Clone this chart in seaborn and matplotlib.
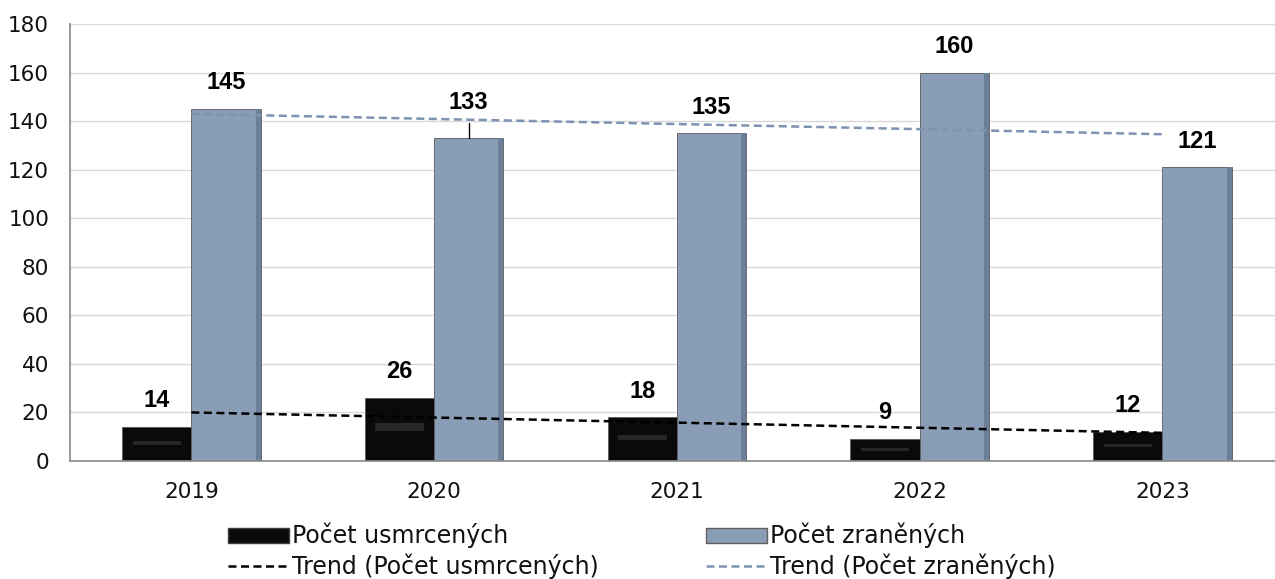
import numpy as np
import pandas as pd
import matplotlib
matplotlib.use("Agg")
import matplotlib.pyplot as plt
from matplotlib.lines import Line2D
from matplotlib.patches import Patch
import seaborn as sns

sns.set_theme(style="white")
plt.rcParams["font.family"] = ["DejaVu Sans"]
plt.rcParams["text.color"] = "#111111"
plt.rcParams["xtick.color"] = "#111111"
plt.rcParams["ytick.color"] = "#111111"

# ── Data ────────────────────────────────────────────────────────────
years = ["2019", "2020", "2021", "2022", "2023"]
killed = [14, 26, 18, 9, 12]
injured = [145, 133, 135, 160, 121]
series = ["Počet usmrcených", "Počet zraněných"]

COLORS = {"Počet usmrcených": "#0a0a0a", "Počet zraněných": "#8a9db7"}
TREND = {"Počet usmrcených": "#000000", "Počet zraněných": "#7d93b1"}
DASH = (0, (3.2, 1.8))

df = pd.DataFrame({
    "Rok": years * 2,
    "Hodnota": killed + injured,
    "Série": [series[0]] * len(years) + [series[1]] * len(years),
})

fig = plt.figure(figsize=(12.75, 5.79), dpi=100)
ax = fig.add_axes([0.0549, 0.2038, 0.952, 0.7547])

sns.barplot(data=df, x="Rok", y="Hodnota", hue="Série", palette=COLORS,
            width=0.57, gap=0, ax=ax, legend=False, saturation=1,
            edgecolor="#5a5a5a", linewidth=0.6)

# soft bevel: dark band on black bars, shaded right edge on blue bars
for bar in ax.containers[0]:
    x0, w, h = bar.get_x(), bar.get_width(), bar.get_height()
    ax.fill_between([x0 + w * 0.15, x0 + w * 0.85], h * 0.47, h * 0.6,
                    color="#262626", lw=0, zorder=bar.get_zorder() + 0.1)
for bar in ax.containers[1]:
    x0, w, h = bar.get_x(), bar.get_width(), bar.get_height()
    ax.fill_between([x0 + w * 0.93, x0 + w], 0, h,
                    color="#6c7f99", lw=0, zorder=bar.get_zorder() + 0.1)

# linear trend lines
xs = np.arange(len(years))
for name, vals in zip(series, [killed, injured]):
    k, q = np.polyfit(xs, vals, 1)
    ax.plot(xs, k * xs + q, ls=DASH, color=TREND[name], lw=1.8, zorder=5)

# value labels
offsets = {("Počet zraněných", 1): 14.5}
for cont, name, vals in zip(ax.containers, series, [killed, injured]):
    for i, (bar, v) in enumerate(zip(cont, vals)):
        cx = bar.get_x() + bar.get_width() / 2
        off = offsets.get((name, i), 10.8)
        ax.text(cx, v + off, f"{v}", ha="center", va="center",
                fontsize=17, fontweight="bold", color="black", zorder=6,
                family="Liberation Sans")
        if off > 12:
            ax.plot([cx, cx], [v, v + 6.4], color="black", lw=1, zorder=6)

ax.set_ylim(0, 180)
ax.set_xlim(-0.5, len(years) - 0.5)
ax.set_yticks(range(0, 181, 20))
ax.set_xlabel("")
ax.set_ylabel("")
ax.yaxis.grid(True, color="#d9d9d9", lw=1)
ax.set_axisbelow(True)
for s in ["top", "right"]:
    ax.spines[s].set_visible(False)
for s in ["left", "bottom"]:
    ax.spines[s].set_color("#8c8c8c")
ax.tick_params(axis="y", length=6, color="#8c8c8c", labelcolor="#111111",
               labelsize=15.5, pad=9)
ax.tick_params(axis="x", which="major", length=0, labelcolor="#111111",
               labelsize=15.5, pad=15)
ax.set_xticks(np.arange(0.5, len(years) - 0.5), minor=True)
ax.tick_params(axis="x", which="minor", length=7, color="#8c8c8c")

leg_kw = dict(loc="upper left", frameon=False, fontsize=17, borderpad=0,
              borderaxespad=0, handlelength=2.6, handleheight=0.6,
              handletextpad=0.12, labelspacing=0.22, labelcolor="#111111")
fig.legend([Patch(facecolor=COLORS[series[0]], edgecolor="#404040"),
            Line2D([], [], color=TREND[series[0]], ls=DASH, lw=1.8)],
           [series[0], "Trend (Počet usmrcených)"],
           bbox_to_anchor=(228 / 1275, 1 - 523 / 579), **leg_kw)
fig.legend([Patch(facecolor=COLORS[series[1]], edgecolor="#606060"),
            Line2D([], [], color=TREND[series[1]], ls=DASH, lw=1.8)],
           [series[1], "Trend (Počet zraněných)"],
           bbox_to_anchor=(706 / 1275, 1 - 523 / 579), **leg_kw)

fig.savefig("out.png", dpi=100)
